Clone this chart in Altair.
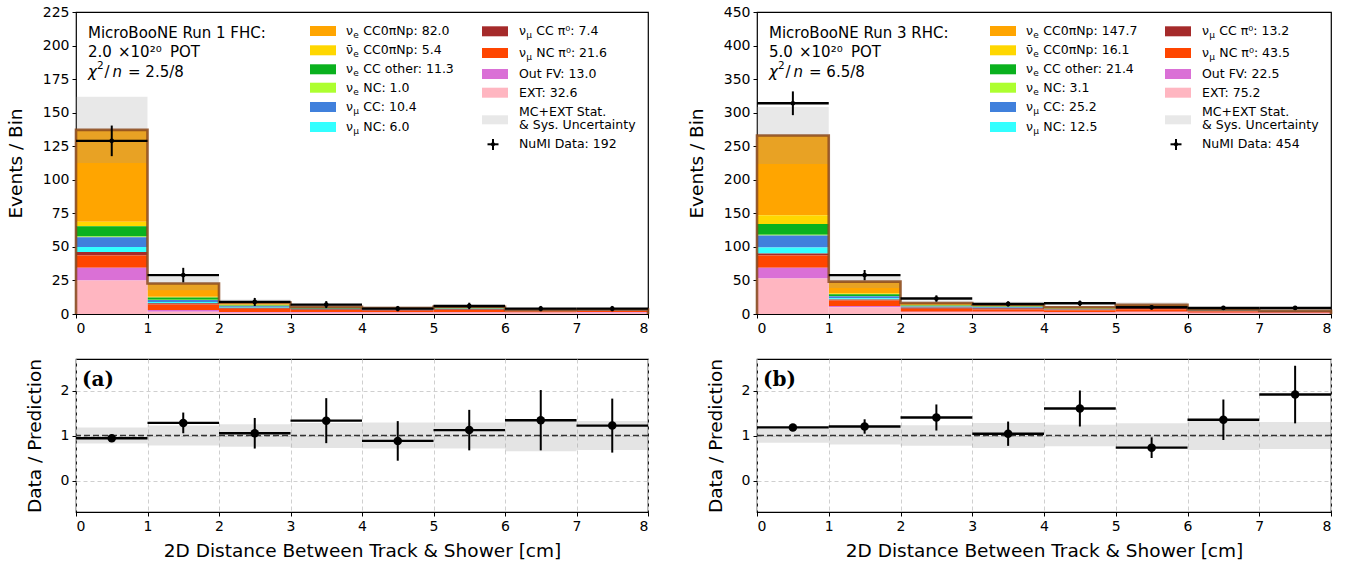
import altair as alt
import pandas as pd

FONT = "DejaVu Sans"

# ---- binning: 2D distance between track and shower [cm]
bin_lo = [0, 1, 2, 3, 4, 5, 6, 7]
bin_hi = [1, 2, 3, 4, 5, 6, 7, 8]

# ---- Run 1 FHC: stacked prediction per bin
r1_nue_cc0pinp = [68.4, 9.8, 1.8, 0.6, 0.3, 0.7, 0.2, 0.25]
r1_nuebar_cc0pinp = [3.4, 0.7, 0.4, 0.3, 0.2, 0.2, 0.05, 0.05]
r1_nue_cc_other = [7.6, 1.5, 0.6, 0.4, 0.3, 0.4, 0.15, 0.15]
r1_nue_nc = [0.6, 0.2, 0.1, 0.0, 0.0, 0.1, 0.0, 0.0]
r1_numu_cc = [7.2, 1.5, 0.5, 0.3, 0.3, 0.3, 0.15, 0.15]
r1_numu_nc = [3.8, 1.0, 0.5, 0.2, 0.3, 0.1, 0.05, 0.05]
r1_numu_cc_pi0 = [2.7, 1.0, 0.8, 0.6, 0.6, 0.7, 0.4, 0.5]
r1_numu_nc_pi0 = [9.0, 4.0, 2.5, 1.5, 1.2, 1.6, 0.8, 0.8]
r1_out_fv = [9.5, 1.4, 0.5, 0.4, 0.3, 0.3, 0.3, 0.4]
r1_ext = [25.0, 1.6, 0.9, 1.0, 1.0, 1.0, 0.9, 1.0]
r1_rel_unc = [0.18, 0.22, 0.25, 0.28, 0.29, 0.29, 0.35, 0.32]
r1_data = [129, 29, 9, 7, 4, 6, 4, 4]
r1_data_err = [11.4, 5.4, 3.0, 2.6, 2.0, 2.4, 2.0, 2.0]
r1_ratio = [0.94, 1.28, 1.05, 1.33, 0.88, 1.12, 1.34, 1.22]
r1_ratio_err = [0.08, 0.23, 0.34, 0.50, 0.44, 0.45, 0.67, 0.60]
r1_legend_vals = ["82.0", "5.4", "11.3", "1.0", "10.4", "6.0", "7.4", "21.6", "13.0", "32.6"]
r1_data_total = "192"
r1_pot = "2.0"

# ---- Run 3 RHC: stacked prediction per bin
r3_nue_cc0pinp = [119.0, 17.3, 3.4, 3.0, 1.6, 2.4, 0.8, 0.1]
r3_nuebar_cc0pinp = [13.0, 1.5, 0.5, 0.4, 0.2, 0.3, 0.1, 0.05]
r3_nue_cc_other = [16.0, 2.5, 0.8, 0.6, 0.5, 0.6, 0.2, 0.1]
r3_nue_nc = [1.0, 0.5, 0.5, 0.4, 0.2, 0.3, 0.1, 0.1]
r3_numu_cc = [18.0, 3.0, 1.2, 1.0, 0.6, 0.8, 0.4, 0.2]
r3_numu_nc = [9.0, 2.0, 0.5, 0.4, 0.2, 0.3, 0.1, 0.05]
r3_numu_cc_pi0 = [3.0, 1.5, 1.5, 1.8, 1.2, 2.0, 1.2, 1.0]
r3_numu_nc_pi0 = [18.0, 8.0, 4.5, 3.5, 2.8, 3.5, 1.8, 1.4]
r3_out_fv = [16.0, 2.0, 1.0, 0.8, 0.7, 1.0, 0.5, 0.5]
r3_ext = [53.0, 10.0, 2.5, 2.5, 2.0, 2.5, 1.5, 1.2]
r3_rel_unc = [0.16, 0.20, 0.23, 0.28, 0.24, 0.27, 0.32, 0.30]
r3_data = [314, 58, 23, 15, 16, 10, 9, 9]
r3_data_err = [17.7, 7.6, 4.8, 3.9, 4.0, 3.2, 3.0, 3.0]
r3_ratio = [1.18, 1.20, 1.40, 1.04, 1.60, 0.73, 1.35, 1.91]
r3_ratio_err = [0.07, 0.16, 0.29, 0.27, 0.40, 0.23, 0.45, 0.64]
r3_legend_vals = ["147.7", "16.1", "21.4", "3.1", "25.2", "12.5", "13.2", "43.5", "22.5", "75.2"]
r3_data_total = "454"
r3_pot = "5.0"

# ---- event categories (legend order) and their colours
comp_keys = ["nue_cc0pinp", "nuebar_cc0pinp", "nue_cc_other", "nue_nc", "numu_cc",
             "numu_nc", "numu_cc_pi0", "numu_nc_pi0", "out_fv", "ext"]
comp_colors = ["#ffa500", "#ffd700", "#0ab11e", "#adff2f", "#4080dc",
               "#33ffff", "#a52a2a", "#ff4500", "#da70d6", "#ffb6c1"]
# stacking position, bottom (0) to top (9)
comp_stack = [9, 8, 7, 6, 5, 4, 3, 2, 1, 0]
legend_parts = [("ν", "e", "CC0πNp"), ("ν\u0304", "e", "CC0πNp"), ("ν", "e", "CC other"),
                ("ν", "e", "NC"), ("ν", "μ", "CC"), ("ν", "μ", "NC"),
                ("ν", "μ", "CC π⁰"), ("ν", "μ", "NC π⁰"), ("", "", "Out FV"), ("", "", "EXT")]

BAND_COLOR = "#9a9a9a"
BAND_OPACITY = 0.23
ONE = pd.DataFrame({"k": [0]})
X_SCALE = alt.Scale(domain=[0, 8], nice=False, zero=False)


def label(x, y, s, size=12.5, style="normal", weight="normal", font=FONT):
    return alt.Chart(ONE).mark_text(
        align="left", baseline="middle", font=font, fontSize=size,
        fontStyle=style, fontWeight=weight, color="black"
    ).encode(x=alt.value(x), y=alt.value(y), text=alt.value(s))


def swatch(x0, x1, y0, y1, color, opacity=1.0):
    return alt.Chart(ONE).mark_rect(color=color, opacity=opacity).encode(
        x=alt.value(x0), x2=alt.value(x1), y=alt.value(y0), y2=alt.value(y1))


def hrule(x0, x1, y, w=2):
    return alt.Chart(ONE).mark_rule(color="black", strokeWidth=w).encode(
        x=alt.value(x0), x2=alt.value(x1), y=alt.value(y))


def vrule(x, y0, y1, w=2):
    return alt.Chart(ONE).mark_rule(color="black", strokeWidth=w).encode(
        x=alt.value(x), y=alt.value(y0), y2=alt.value(y1))


def legend_layers(vals, n_data, sw1, lab1, sw2, lab2):
    rows1 = [19, 38.3, 57.3, 75.7, 95, 115]
    rows2 = [19.3, 41, 62, 80.7]
    out = []
    for i, (nu, sub, rest) in enumerate(legend_parts):
        if i < 6:
            sx, lx, y = sw1, lab1, rows1[i]
        else:
            sx, lx, y = sw2, lab2, rows2[i - 6]
        out.append(swatch(sx, sx + 26, y - 5, y + 5, comp_colors[i]))
        text = f"{rest}: {vals[i]}"
        if nu:
            out.append(label(lx, y, nu))
            out.append(label(lx + 7.2, y + 4, sub, size=9))
            out.append(label(lx + 17.3, y, text))
        else:
            out.append(label(lx, y, text))
    out.append(swatch(sw2, sw2 + 26, 103.3, 112.3, BAND_COLOR, BAND_OPACITY))
    out.append(label(lab2, 99.7, "MC+EXT Stat."))
    out.append(label(lab2, 113.3, "& Sys. Uncertainty"))
    mx = sw2 + 11
    out.append(hrule(mx - 5.5, mx + 5.5, 132.3, 2))
    out.append(vrule(mx, 127, 138, 2))
    out.append(alt.Chart(ONE).mark_circle(size=18, color="black", opacity=1).encode(
        x=alt.value(mx), y=alt.value(132.3)))
    out.append(label(lab2, 132.3, f"NuMI Data: {n_data}"))
    return out


def top_panel(comps, rel, data, data_err, ymax, ystep, run_line, pot, chi_val,
              legend_vals, n_data, width, sw1, lab1, sw2, lab2):
    rows = []
    for key, vals, pos in zip(comp_keys, comps, comp_stack):
        for lo, hi, v in zip(bin_lo, bin_hi, vals):
            rows.append({"lo": lo, "hi": hi, "comp": key, "pos": pos, "value": v})
    stack_df = pd.DataFrame(rows)
    totals = [sum(c[i] for c in comps) for i in range(len(bin_lo))]
    bins_df = pd.DataFrame({
        "lo": bin_lo, "hi": bin_hi, "mid": [(a + b) / 2 for a, b in zip(bin_lo, bin_hi)],
        "total": totals, "rel": rel, "data": data, "err": data_err})
    # closed step outline of the total prediction
    px, py = [bin_lo[0]], [0.0]
    for lo, hi, t in zip(bin_lo, bin_hi, totals):
        px += [lo, hi]
        py += [t, t]
    px.append(bin_hi[-1])
    py.append(0.0)
    outline_df = pd.DataFrame({"px": px, "py": py, "seq": list(range(len(px)))})

    y_scale = alt.Scale(domain=[0, ymax], nice=False, zero=True)
    x_axis = alt.Axis(values=list(range(9)), format="d", title=None)
    y_axis = alt.Axis(values=list(range(0, ymax + 1, ystep)), title="Events / Bin",
                      titlePadding=17)

    def X(field):
        return alt.X(field, scale=X_SCALE, axis=x_axis)

    def Y(field):
        return alt.Y(field, scale=y_scale, axis=y_axis)

    stack = alt.Chart(stack_df).transform_stack(
        stack="value", groupby=["lo"], as_=["y0", "y1"],
        sort=[alt.SortField("pos", order="ascending")]
    ).mark_rect().encode(
        x=X("lo:Q"), x2="hi:Q", y=Y("y0:Q"), y2="y1:Q",
        color=alt.Color("comp:N", scale=alt.Scale(domain=comp_keys, range=comp_colors),
                        legend=None),
    )
    base = alt.Chart(bins_df)
    band = base.transform_calculate(
        b0="datum.total * (1 - datum.rel)", b1="datum.total * (1 + datum.rel)"
    ).mark_rect(color=BAND_COLOR, opacity=BAND_OPACITY).encode(
        x=X("lo:Q"), x2="hi:Q", y=Y("b0:Q"), y2="b1:Q")
    outline = alt.Chart(outline_df).mark_line(
        color="#8b4a1e", strokeWidth=2.6, opacity=0.85, interpolate="linear"
    ).encode(x=X("px:Q"), y=Y("py:Q"), order="seq:Q")
    data_h = base.mark_rule(color="black", strokeWidth=2.4).encode(
        x=X("lo:Q"), x2="hi:Q", y=Y("data:Q"))
    data_v = base.transform_calculate(
        e0="datum.data - datum.err", e1="datum.data + datum.err"
    ).mark_rule(color="black", strokeWidth=2).encode(
        x=X("mid:Q"), y=Y("e0:Q"), y2="e1:Q")
    data_p = base.mark_circle(size=22, color="black", opacity=1).encode(
        x=X("mid:Q"), y=Y("data:Q"))

    info = [
        label(12, 21, run_line, size=15),
        label(12, 40, pot, size=15),
        label(42, 40, "×10²⁰", size=15),
        label(94, 40, "POT", size=15),
        label(12, 60, "χ", size=15, style="italic"),
        label(21, 54, "2", size=10.5),
        label(28.5, 60, "/", size=15),
        label(36.5, 60, "n", size=15, style="italic"),
        label(52, 60, f"= {chi_val}", size=15),
    ]
    layers = [stack, band, outline, data_h, data_v, data_p] + info + \
        legend_layers(legend_vals, n_data, sw1, lab1, sw2, lab2)
    return alt.layer(*layers).properties(width=width, height=302)


def ratio_panel(rel, ratio, ratio_err, tag, width):
    df = pd.DataFrame({
        "lo": bin_lo, "hi": bin_hi, "mid": [(a + b) / 2 for a, b in zip(bin_lo, bin_hi)],
        "rel": rel, "ratio": ratio, "rerr": ratio_err})
    base = alt.Chart(df)
    grid = dict(grid=True, gridColor="#cfcfcf", gridDash=[4, 3], gridWidth=1)
    x_axis = alt.Axis(values=list(range(9)), format="d",
                      title="2D Distance Between Track & Shower [cm]", titlePadding=8, **grid)
    y_axis = alt.Axis(values=[0, 1, 2], format="d", title="Data / Prediction",
                      titlePadding=16, **grid)
    y_scale = alt.Scale(domain=[-0.7, 2.7], nice=False, zero=False)

    def X(field):
        return alt.X(field, scale=X_SCALE, axis=x_axis)

    def Y(field):
        return alt.Y(field, scale=y_scale, axis=y_axis)

    band = base.transform_calculate(
        b0="1 - datum.rel", b1="1 + datum.rel"
    ).mark_rect(color=BAND_COLOR, opacity=BAND_OPACITY + 0.04).encode(
        x=X("lo:Q"), x2="hi:Q", y=Y("b0:Q"), y2="b1:Q")
    unity = alt.Chart(ONE).mark_rule(color="#333333", strokeWidth=1.5,
                                     strokeDash=[6, 3]).encode(y=alt.datum(1, axis=y_axis))
    r_h = base.mark_rule(color="black", strokeWidth=2.4).encode(
        x=X("lo:Q"), x2="hi:Q", y=Y("ratio:Q"))
    r_v = base.transform_calculate(
        e0="datum.ratio - datum.rerr", e1="datum.ratio + datum.rerr"
    ).mark_rule(color="black", strokeWidth=2).encode(
        x=X("mid:Q"), y=Y("e0:Q"), y2="e1:Q")
    r_p = base.mark_circle(size=72, color="black", opacity=1).encode(
        x=X("mid:Q"), y=Y("ratio:Q"))
    tag_txt = label(6, 21, tag, size=20, weight="bold", font="DejaVu Serif")
    return alt.layer(band, unity, r_h, r_v, r_p, tag_txt).properties(width=width, height=153)


r1_comps = [r1_nue_cc0pinp, r1_nuebar_cc0pinp, r1_nue_cc_other, r1_nue_nc, r1_numu_cc,
            r1_numu_nc, r1_numu_cc_pi0, r1_numu_nc_pi0, r1_out_fv, r1_ext]
r3_comps = [r3_nue_cc0pinp, r3_nuebar_cc0pinp, r3_nue_cc_other, r3_nue_nc, r3_numu_cc,
            r3_numu_nc, r3_numu_cc_pi0, r3_numu_nc_pi0, r3_out_fv, r3_ext]

top_left = top_panel(r1_comps, r1_rel_unc, r1_data, r1_data_err, 225, 25,
                     "MicroBooNE Run 1 FHC:", r1_pot, "2.5/8",
                     r1_legend_vals, r1_data_total, 572, 234, 270, 406, 443)
top_right = top_panel(r3_comps, r3_rel_unc, r3_data, r3_data_err, 450, 50,
                      "MicroBooNE Run 3 RHC:", r3_pot, "6.5/8",
                      r3_legend_vals, r3_data_total, 574, 233, 269, 408, 445)
bottom_left = ratio_panel(r1_rel_unc, r1_ratio, r1_ratio_err, "(a)", 572)
bottom_right = ratio_panel(r3_rel_unc, r3_ratio, r3_ratio_err, "(b)", 574)

chart = alt.concat(
    top_left, top_right, bottom_left, bottom_right,
    columns=2, spacing={"row": 45, "column": 109}, bounds="flush"
).properties(
    padding={"left": 5, "top": 4, "right": 5, "bottom": 5},
    background="white",
).configure(
    font=FONT
).configure_view(
    stroke="black", strokeWidth=1.2
).configure_axis(
    labelFont=FONT, labelFontSize=14, labelColor="black", labelPadding=3,
    titleFont=FONT, titleFontSize=18.5, titleFontWeight="normal", titleColor="black",
    tickColor="black", tickSize=4, tickWidth=1, domain=False, grid=False,
)

chart.save("out.html", embed_options={"renderer": "svg", "actions": False})
